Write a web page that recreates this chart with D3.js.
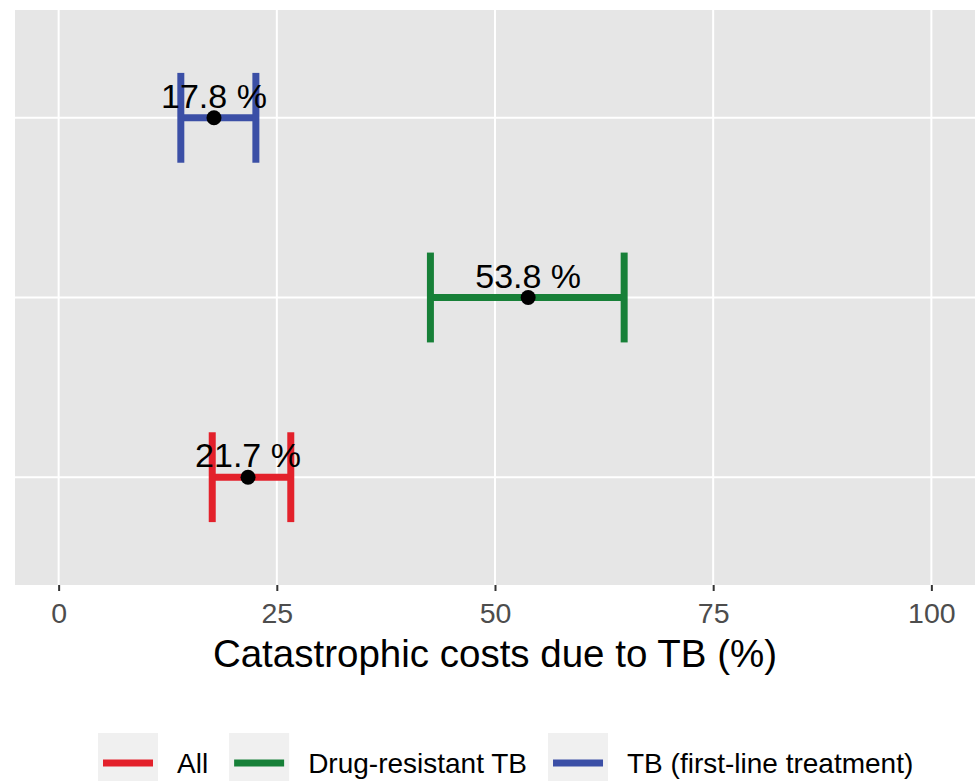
<!DOCTYPE html>
<html>
<head>
<meta charset="utf-8">
<script src="https://cdn.jsdelivr.net/npm/d3@7"></script>
<style>
  html, body { margin: 0; padding: 0; background: #fff; }
  svg { display: block; font-family: "Liberation Sans", Arial, Helvetica, sans-serif; }
</style>
</head>
<body>
<svg id="chart" width="977" height="781"></svg>
<script>
// ---- data ----
const groups = ["All", "Drug-resistant TB", "TB (first-line treatment)"];
const estimates = [21.7, 53.8, 17.8];
const lowerCI = [17.6, 42.6, 14.0];
const upperCI = [26.6, 64.8, 22.6];
const groupColors = ["#e3212b", "#178038", "#3b4fa6"];
const xTicks = [0, 25, 50, 75, 100];
const xTitle = "Catastrophic costs due to TB (%)";

// ---- layout ----
const svg = d3.select("#chart");
const panel = { left: 15, right: 975, top: 10, bottom: 585 };

const x = d3.scaleLinear().domain([-5, 105]).range([panel.left, panel.right]);
// categories bottom-to-top at 1,2,3 with 0.6 expansion
const y = d3.scaleLinear().domain([0.4, groups.length + 0.6]).range([panel.bottom, panel.top]);
const yPos = i => y(i + 1);

// panel background
svg.append("rect")
  .attr("x", panel.left).attr("y", panel.top)
  .attr("width", panel.right - panel.left).attr("height", panel.bottom - panel.top)
  .attr("fill", "#e6e6e6");

// grid lines
svg.append("g").selectAll("line").data(xTicks).join("line")
  .attr("x1", d => x(d)).attr("x2", d => x(d))
  .attr("y1", panel.top).attr("y2", panel.bottom)
  .attr("stroke", "#fff").attr("stroke-width", 2);
svg.append("g").selectAll("line").data(groups).join("line")
  .attr("x1", panel.left).attr("x2", panel.right)
  .attr("y1", (d, i) => yPos(i)).attr("y2", (d, i) => yPos(i))
  .attr("stroke", "#fff").attr("stroke-width", 2);

// x axis
const xAxis = d3.axisBottom(x).tickValues(xTicks).tickSize(6).tickPadding(8).tickFormat(d3.format("d"));
const gx = svg.append("g").attr("transform", `translate(0,${panel.bottom})`).call(xAxis);
gx.select(".domain").remove();
gx.selectAll(".tick line").attr("stroke", "#333").attr("stroke-width", 2);
gx.selectAll(".tick text")
  .attr("fill", "#4d4d4d").attr("font-size", 28.5)
  .attr("dy", null).attr("y", 38);

// axis title
svg.append("text")
  .attr("x", (panel.left + panel.right) / 2).attr("y", 667)
  .attr("text-anchor", "middle").attr("font-size", 38.5).attr("fill", "#000")
  .text(xTitle);

// error bars
const capHalf = 0.25;
const eb = svg.append("g").selectAll("g").data(groups).join("g");
eb.append("line")
  .attr("x1", (d, i) => x(lowerCI[i])).attr("x2", (d, i) => x(upperCI[i]))
  .attr("y1", (d, i) => yPos(i)).attr("y2", (d, i) => yPos(i))
  .attr("stroke", (d, i) => groupColors[i]).attr("stroke-width", 7);
eb.append("line")
  .attr("x1", (d, i) => x(lowerCI[i])).attr("x2", (d, i) => x(lowerCI[i]))
  .attr("y1", (d, i) => y(i + 1 - capHalf)).attr("y2", (d, i) => y(i + 1 + capHalf))
  .attr("stroke", (d, i) => groupColors[i]).attr("stroke-width", 7);
eb.append("line")
  .attr("x1", (d, i) => x(upperCI[i])).attr("x2", (d, i) => x(upperCI[i]))
  .attr("y1", (d, i) => y(i + 1 - capHalf)).attr("y2", (d, i) => y(i + 1 + capHalf))
  .attr("stroke", (d, i) => groupColors[i]).attr("stroke-width", 7);

// points
svg.append("g").selectAll("circle").data(groups).join("circle")
  .attr("cx", (d, i) => x(estimates[i])).attr("cy", (d, i) => yPos(i))
  .attr("r", 7.5).attr("fill", "#000");

// labels
svg.append("g").selectAll("text").data(groups).join("text")
  .attr("x", (d, i) => x(estimates[i])).attr("y", (d, i) => yPos(i) - 10)
  .attr("text-anchor", "middle").attr("font-size", 34).attr("fill", "#000")
  .text((d, i) => estimates[i].toFixed(1) + " %");

// legend
const legend = svg.append("g");
let cx = 98;
groups.forEach((g, i) => {
  legend.append("rect")
    .attr("x", cx).attr("y", 733).attr("width", 60).attr("height", 60)
    .attr("fill", "#f0f0f0");
  legend.append("line")
    .attr("x1", cx + 5).attr("x2", cx + 55).attr("y1", 763).attr("y2", 763)
    .attr("stroke", groupColors[i]).attr("stroke-width", 7);
  const t = legend.append("text")
    .attr("x", cx + 79).attr("y", 773)
    .attr("font-size", 28).attr("fill", "#000").text(g);
  const w = t.node().getComputedTextLength();
  cx = cx + 79 + w + 21;
});
</script>
</body>
</html>
